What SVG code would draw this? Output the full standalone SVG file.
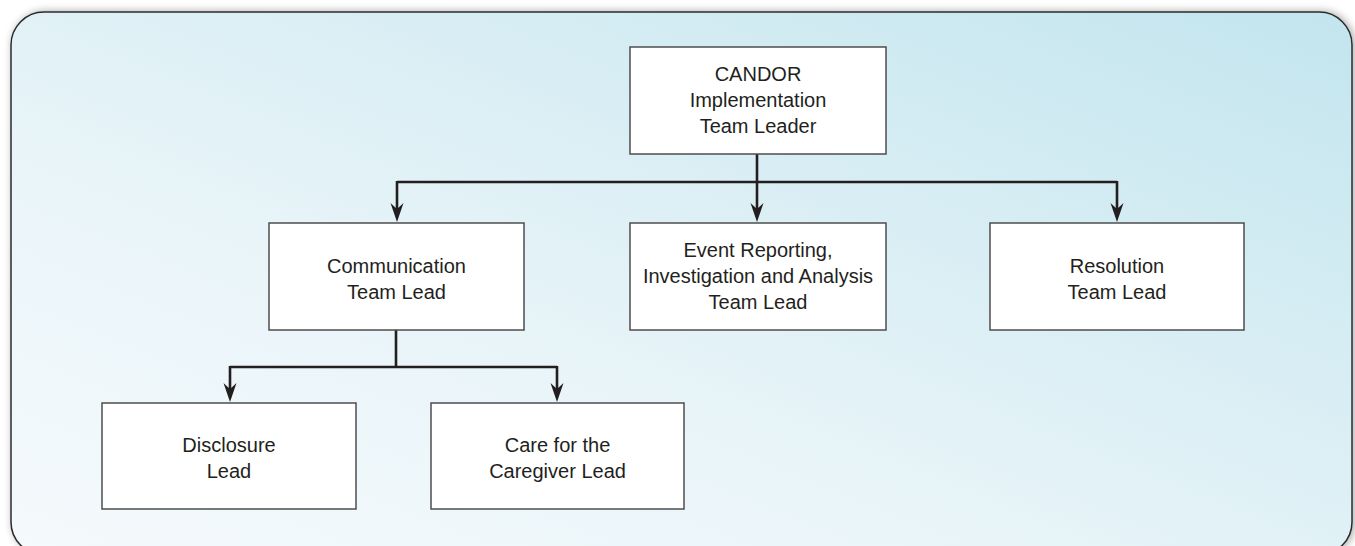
<svg xmlns="http://www.w3.org/2000/svg" width="1355" height="546" viewBox="0 0 1355 546">
  <defs>
    <linearGradient id="bg" x1="0" y1="1" x2="1" y2="0">
      <stop offset="0" stop-color="#f5fafc"/>
      <stop offset="0.35" stop-color="#eaf5f9"/>
      <stop offset="1" stop-color="#c3e5ee"/>
    </linearGradient>
    <filter id="shadow" x="-5%" y="-5%" width="110%" height="110%">
      <feGaussianBlur in="SourceAlpha" stdDeviation="4"/>
      <feOffset dx="2" dy="0" result="b"/>
      <feComponentTransfer><feFuncA type="linear" slope="0.35"/></feComponentTransfer>
      <feMerge><feMergeNode/><feMergeNode in="SourceGraphic"/></feMerge>
    </filter>
    <marker id="arrow" viewBox="-20 -7 21 14" refX="-8" refY="0" markerWidth="21" markerHeight="14" markerUnits="userSpaceOnUse" orient="auto">
      <path d="M0,0 L-19,-6.5 L-13,0 L-19,6.5 Z" fill="#231f20"/>
    </marker>
    <style>
      .box { fill: #ffffff; stroke: #4d4d4d; stroke-width: 1.5; }
      .lbl { font-family: "Liberation Sans", Arial, sans-serif; font-size: 20px; fill: #231f20; text-anchor: middle; }
      .conn { fill: none; stroke: #231f20; stroke-width: 2.6; }
    </style>
  </defs>

  <rect x="0" y="0" width="1355" height="546" fill="#ffffff"/>
  <rect id="frame" x="11" y="12" width="1341" height="543" rx="33" ry="33" fill="url(#bg)" stroke="#2b2b2b" stroke-width="1.5" filter="url(#shadow)"/>

  <g id="connectors">
    <path class="conn" d="M757,154 V214" marker-end="url(#arrow)"/>
    <path class="conn" d="M397,182 H1117"/>
    <path class="conn" d="M397,181 V214" marker-end="url(#arrow)"/>
    <path class="conn" d="M1117,181 V214" marker-end="url(#arrow)"/>
    <path class="conn" d="M396,330 V367"/>
    <path class="conn" d="M230,367 H557"/>
    <path class="conn" d="M230,366 V394" marker-end="url(#arrow)"/>
    <path class="conn" d="M557,366 V394" marker-end="url(#arrow)"/>
  </g>

  <g id="candor">
    <rect class="box" x="630" y="47" width="256" height="107"/>
    <text class="lbl" x="758" y="81">CANDOR</text>
    <text class="lbl" x="758" y="107">Implementation</text>
    <text class="lbl" x="758" y="133">Team Leader</text>
  </g>

  <g id="communication">
    <rect class="box" x="269" y="223" width="255" height="107"/>
    <text class="lbl" x="396.5" y="273">Communication</text>
    <text class="lbl" x="396.5" y="299">Team Lead</text>
  </g>

  <g id="event">
    <rect class="box" x="630" y="223" width="256" height="107"/>
    <text class="lbl" x="758" y="257">Event Reporting,</text>
    <text class="lbl" x="758" y="283">Investigation and Analysis</text>
    <text class="lbl" x="758" y="309">Team Lead</text>
  </g>

  <g id="resolution">
    <rect class="box" x="990" y="223" width="254" height="107"/>
    <text class="lbl" x="1117" y="273">Resolution</text>
    <text class="lbl" x="1117" y="299">Team Lead</text>
  </g>

  <g id="disclosure">
    <rect class="box" x="102" y="403" width="254" height="106"/>
    <text class="lbl" x="229" y="452">Disclosure</text>
    <text class="lbl" x="229" y="478">Lead</text>
  </g>

  <g id="care">
    <rect class="box" x="431" y="403" width="253" height="106"/>
    <text class="lbl" x="557.5" y="452">Care for the</text>
    <text class="lbl" x="557.5" y="478">Caregiver Lead</text>
  </g>
</svg>
